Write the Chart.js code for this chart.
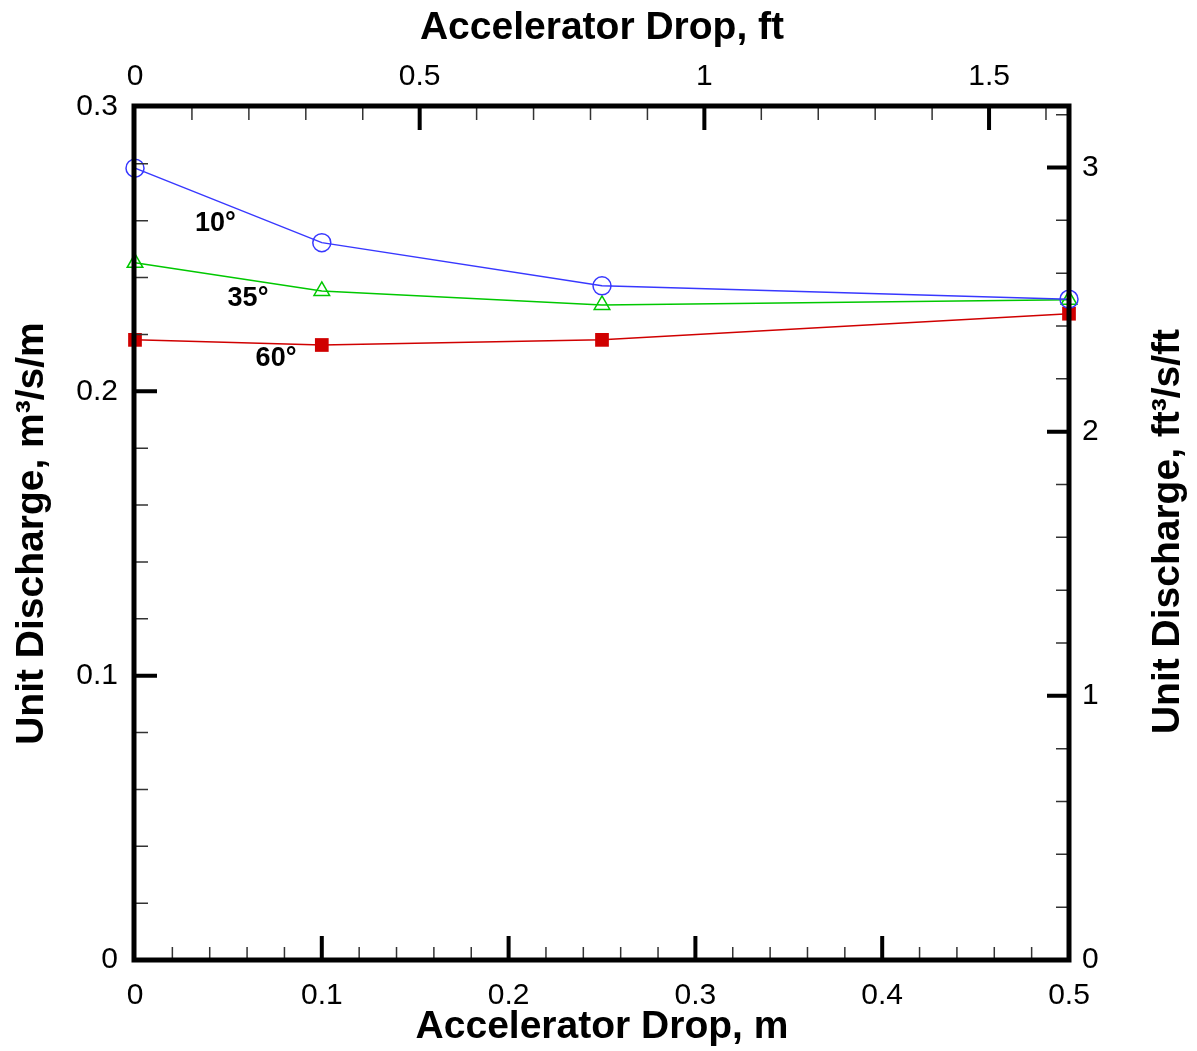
<!DOCTYPE html>
<html>
<head>
<meta charset="utf-8">
<script src="https://cdn.jsdelivr.net/npm/chart.js@4.4.1/dist/chart.umd.min.js"></script>
<style>
  html, body { margin: 0; padding: 0; background: #fff; }
  #wrap { width: 1197px; height: 1051px; }
</style>
</head>
<body>
<div id="wrap"><canvas id="c" width="1197" height="1051"></canvas></div>
<script>
// data
const dropM = [0, 0.1, 0.25, 0.5];
const q10 = [0.2785, 0.2523, 0.2371, 0.2324];
const q35 = [0.2452, 0.2353, 0.2304, 0.2322];
const q60 = [0.2181, 0.2163, 0.2181, 0.2273];
const angleLabels = ['10°', '35°', '60°'];
const labelX = [0.043, 0.0605, 0.0755];
const labelY = [0.2589, 0.2328, 0.2114];

const M_TO_FT = 3.28084;
const Q_SI_TO_US = 10.7639;
const xMax = 0.5, yMax = 0.3;

const FONT = '"Liberation Sans", Arial, Helvetica, sans-serif';
const pts = (ys) => dropM.map((x, i) => ({ x, y: ys[i] }));

// inward ticks + frame + angle labels
const frame = {
  id: 'frame',
  afterDatasetsDraw(chart) {
    const { ctx, chartArea: a, scales } = chart;
    ctx.save();
    const ticks = (scale, step, max, len, w, col, horiz, fromEdge, dir) => {
      ctx.lineWidth = w; ctx.strokeStyle = col; ctx.beginPath();
      for (let k = 1; k * step < max - 1e-9; k++) {
        const p = scale.getPixelForValue(k * step);
        if (horiz) { ctx.moveTo(p, fromEdge); ctx.lineTo(p, fromEdge + dir * len); }
        else { ctx.moveTo(fromEdge, p); ctx.lineTo(fromEdge + dir * len, p); }
      }
      ctx.stroke();
    };
    // minors
    ticks(scales.x, 0.02, xMax, 13, 1.5, '#333', true, a.bottom, -1);
    ticks(scales.x2, 0.1, xMax * M_TO_FT, 13, 1.5, '#333', true, a.top, 1);
    ticks(scales.y, 0.02, yMax, 13, 1.5, '#333', false, a.left, 1);
    ticks(scales.y2, 0.2, yMax * Q_SI_TO_US, 13, 1.5, '#333', false, a.right, -1);
    // majors
    ticks(scales.x, 0.1, xMax, 24, 4, '#000', true, a.bottom, -1);
    ticks(scales.x2, 0.5, xMax * M_TO_FT, 23, 4, '#000', true, a.top, 1);
    ticks(scales.y, 0.1, yMax, 22, 4, '#000', false, a.left, 1);
    ticks(scales.y2, 1, yMax * Q_SI_TO_US, 22, 4, '#000', false, a.right, -1);
    // frame
    ctx.lineWidth = 5; ctx.strokeStyle = '#000';
    ctx.strokeRect(a.left - 1, a.top - 1, a.right - a.left + 1, a.bottom - a.top + 1);

    // angle labels
    ctx.fillStyle = '#000';
    ctx.font = 'bold 27px ' + FONT;
    ctx.textAlign = 'center'; ctx.textBaseline = 'middle';
    angleLabels.forEach((t, i) => {
      ctx.fillText(t, scales.x.getPixelForValue(labelX[i]), scales.y.getPixelForValue(labelY[i]));
    });

    // right axis title (reads bottom to top)
    ctx.save();
    ctx.translate(1168, (a.top + a.bottom) / 2 - 2);
    ctx.rotate(-Math.PI / 2);
    ctx.font = 'bold 39px ' + FONT;
    ctx.fillText('Unit Discharge, ft³/s/ft', 0, 0);
    ctx.restore();
    ctx.restore();
  }
};

const tickFont = { family: FONT, size: 30 };
const titleFont = { family: FONT, size: 39, weight: 'bold' };
const fmt = (v) => String(Math.round(v * 100) / 100);

new Chart(document.getElementById('c'), {
  type: 'scatter',
  data: {
    datasets: [
      { label: '10°', data: pts(q10), showLine: true, borderColor: '#3838ff', borderWidth: 1.5,
        pointStyle: 'circle', pointRadius: 9, pointBorderWidth: 1.5, pointBackgroundColor: 'rgba(0,0,0,0)', pointBorderColor: '#3838ff', clip: false },
      { label: '35°', data: pts(q35), showLine: true, borderColor: '#00c800', borderWidth: 1.5,
        pointStyle: 'triangle', pointRadius: 9, pointBorderWidth: 1.5, pointBackgroundColor: 'rgba(0,0,0,0)', pointBorderColor: '#00c800', clip: false },
      { label: '60°', data: pts(q60), showLine: true, borderColor: '#d00000', borderWidth: 1.5,
        pointStyle: 'rect', pointRadius: 9.7, pointBorderWidth: 0, pointBackgroundColor: '#d00000', pointBorderColor: '#d00000', clip: false }
    ]
  },
  options: {
    responsive: false,
    animation: false,
    layout: { padding: 0 },
    plugins: { legend: { display: false }, tooltip: { enabled: false } },
    scales: {
      x: {
        type: 'linear', position: 'bottom', min: 0, max: xMax,
        grid: { display: false, drawTicks: false }, border: { display: false },
        ticks: { stepSize: 0.1, font: tickFont, color: '#000', padding: 18, maxRotation: 0, callback: fmt },
        title: { display: true, text: 'Accelerator Drop, m', font: titleFont, color: '#000', padding: { top: 0, bottom: 0 } },
        afterFit: (s) => { s.height = 91; }
      },
      x2: {
        type: 'linear', position: 'top', min: 0, max: xMax * M_TO_FT,
        grid: { display: false, drawTicks: false }, border: { display: false },
        ticks: { stepSize: 0.5, includeBounds: false, font: tickFont, color: '#000', padding: 12, maxRotation: 0, callback: fmt },
        title: { display: true, text: 'Accelerator Drop, ft', font: titleFont, color: '#000', padding: { top: 5, bottom: 0 } },
        afterFit: (s) => { s.height = 107; }
      },
      y: {
        type: 'linear', position: 'left', min: 0, max: yMax,
        grid: { display: false, drawTicks: false }, border: { display: false },
        ticks: { stepSize: 0.1, font: tickFont, color: '#000', padding: 17, callback: fmt },
        title: { display: true, text: 'Unit Discharge, m³/s/m', font: titleFont, color: '#000', padding: { top: 9, bottom: 0 } },
        afterFit: (s) => { s.width = 135; }
      },
      y2: {
        type: 'linear', position: 'right', min: 0, max: yMax * Q_SI_TO_US,
        grid: { display: false, drawTicks: false }, border: { display: false },
        ticks: { stepSize: 1, includeBounds: false, font: tickFont, color: '#000', padding: 13, callback: fmt },
        afterFit: (s) => { s.width = 128; }
      }
    }
  },
  plugins: [frame]
});
</script>
</body>
</html>
